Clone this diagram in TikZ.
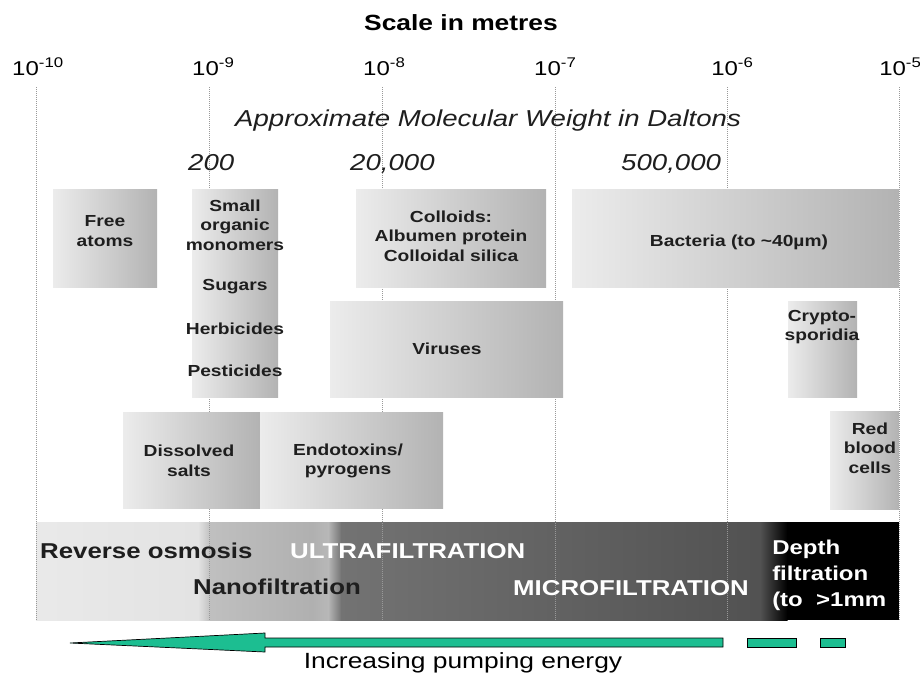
\documentclass[tikz,border=0pt]{standalone}
\usepackage{fontspec}
\setmainfont{Liberation Sans}
\usetikzlibrary{shadings}
\definecolor{arrowgreen}{RGB}{28,190,145}
\definecolor{txtdark}{RGB}{30,30,30}
\tikzset{
  lbl/.style={inner sep=0pt, xscale=1.2, align=center, text=txtdark},
  boxtxt/.style={lbl, font=\fontsize{16}{19.5}\selectfont\bfseries},
  bandtxt/.style={inner sep=0pt, xscale=1.2, align=left, font=\fontsize{21.5}{26}\selectfont\bfseries},
  ticktxt/.style={lbl, anchor=base west, font=\fontsize{20}{24}\selectfont, text=black},
  mwtxt/.style={lbl, anchor=base west, font=\fontsize{23}{27}\selectfont\itshape},
  sizebox/.style={left color=gray!15, right color=gray!60, draw=none},
  gridline/.style={gray!80, line width=0.6pt, dash pattern=on 1pt off 1pt},
  energy/.style={fill=arrowgreen, draw=black, line width=0.7pt, line join=miter}
}
\begin{document}
\begin{tikzpicture}[x=1pt,y=-1pt]
\useasboundingbox (0,0) rectangle (920,677);
\fill[white] (0,0) rectangle (920,677);

% ---- filtration band ----
\shade[left color=gray!17, right color=gray!22] (36,522) rectangle (198.5,620);
\shade[left color=gray!22, right color=gray!50] (198,522) rectangle (210.5,620);
\shade[left color=gray!50, right color=gray!62] (210,522) rectangle (312.5,620);
\shade[left color=gray!62, right color=gray!56] (312,522) rectangle (328.5,620);
\shade[left color=gray!56, right color=black!55] (328,522) rectangle (341.5,620);
\shade[left color=black!55, right color=black!68] (341,522) rectangle (760.5,620);
\shade[left color=black!68, right color=black] (760,522) rectangle (787.5,620);
\fill[black] (787,522) rectangle (899,620);

% ---- grid lines ----
\foreach \gx in {36,209,382,555,727,899}
  \draw[gridline] (\gx,87) -- (\gx,620);

% ---- title and scales ----
\node[lbl, font=\fontsize{22}{26}\selectfont\bfseries, text=black] (title) at (461,23) {Scale in metres};
\node[ticktxt] (t10) at (12,75) {10\textsuperscript{-10}};
\node[ticktxt] (t9) at (192,75) {10\textsuperscript{-9}};
\node[ticktxt] (t8) at (363,75) {10\textsuperscript{-8}};
\node[ticktxt] (t7) at (534,75) {10\textsuperscript{-7}};
\node[ticktxt] (t6) at (711,75) {10\textsuperscript{-6}};
\node[ticktxt] (t5) at (879,75) {10\textsuperscript{-5}};
\node[mwtxt] (mwtitle) at (235,126) {Approximate Molecular Weight in Daltons};
\node[mwtxt] (mw200) at (188,170) {200};
\node[mwtxt] (mw20k) at (350,170) {20,000};
\node[mwtxt] (mw500k) at (621,170) {500,000};

% ---- size boxes ----
\shade[sizebox] (53,189) rectangle (157,287);
\shade[sizebox] (192,189) rectangle (278,397);
\shade[sizebox] (356,189) rectangle (546,287);
\shade[sizebox] (572,189) rectangle (899,287);
\shade[sizebox] (330,301) rectangle (563,397);
\shade[sizebox] (788,301) rectangle (857,397);
\shade[sizebox] (123,412) rectangle (260,508);
\shade[sizebox] (260,412) rectangle (443,508);
\shade[sizebox] (830,411) rectangle (899,509);

\node[boxtxt] (free) at (105,231) {Free\\atoms};
\node[boxtxt] (small) at (235,225) {Small\\organic\\monomers};
\node[boxtxt] (sugars) at (235,287) {Sugars};
\node[boxtxt] (herb) at (235,329) {Herbicides};
\node[boxtxt] (pest) at (235,371) {Pesticides};
\node[boxtxt] (colloids) at (451,236) {Colloids:\\Albumen protein\\Colloidal silica};
\node[boxtxt] (bacteria) at (739,242) {Bacteria (to \textasciitilde40µm)};
\node[boxtxt] (viruses) at (447,349) {Viruses};
\node[boxtxt] (crypto) at (822,327) {Crypto-\\sporidia};
\node[boxtxt] (salts) at (189,461) {Dissolved\\salts};
\node[boxtxt] (endo) at (348,461) {Endotoxins/\\pyrogens};
\node[boxtxt] (rbc) at (870,448) {Red\\blood\\cells};

% ---- band labels ----
\node[bandtxt, anchor=west, text=txtdark] (ro) at (40,551) {Reverse osmosis};
\node[bandtxt, anchor=west, text=white] (uf) at (290,551) {ULTRAFILTRATION};
\node[bandtxt, anchor=west, text=txtdark] (nf) at (193,587) {Nanofiltration};
\node[bandtxt, anchor=west, text=white] (mf) at (513,588) {MICROFILTRATION};
\node[bandtxt, anchor=west, text=white, font=\fontsize{20}{26}\selectfont\bfseries] (depth) at (772,575) {Depth\\filtration\\(to~~>1mm};

% ---- energy arrow ----
\draw[energy] (70,643) -- (265,633) -- (265,638) -- (723,638) -- (723,647) -- (265,647) -- (265,652) -- cycle;
\draw[energy] (747,638) rectangle (796,647);
\draw[energy] (820,638) rectangle (845,647);
\node[lbl, font=\fontsize{22}{26}\selectfont, text=black] (energylbl) at (463,663) {Increasing pumping energy};
\end{tikzpicture}
\end{document}
